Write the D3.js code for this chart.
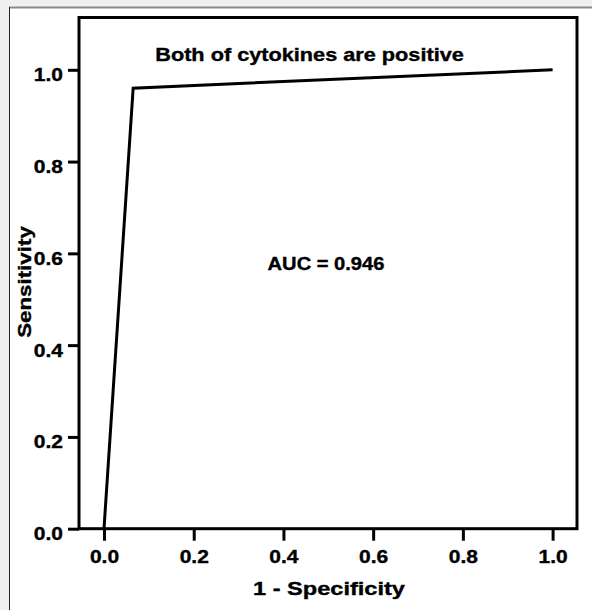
<!DOCTYPE html>
<html>
<head>
<meta charset="utf-8">
<script src="https://cdn.jsdelivr.net/npm/d3@7/dist/d3.min.js"></script>
<style>
  html, body { margin: 0; padding: 0; background: #f0f0f0; }
  svg { display: block; }
  text { font-family: "Liberation Sans", Arial, sans-serif; font-weight: bold; fill: #000; stroke: #000; stroke-width: 0.35px; }
</style>
</head>
<body>
<script>
// ---- data ----
const fpr = [0, 0.065, 1];            // 1 - Specificity
const tpr = [0, 0.96, 1];             // Sensitivity
const xTicks = [0, 0.2, 0.4, 0.6, 0.8, 1.0];
const yTicks = [0, 0.2, 0.4, 0.6, 0.8, 1.0];
const titleText = "Both of cytokines are positive";
const aucText = "AUC = 0.946";
const xLabel = "1 - Specificity";
const yLabel = "Sensitivity";

// ---- layout ----
const W = 592, H = 610;
const frame = { left: 79, right: 577, top: 17.5, bottom: 528.7 };
const FONT = '"Liberation Sans", Arial, sans-serif';

const svg = d3.select("body").append("svg").attr("width", W).attr("height", H);

// panel
svg.append("rect").attr("x", 0).attr("y", 0).attr("width", W).attr("height", H).attr("fill", "#f0f0f0");
svg.append("rect").attr("x", 9).attr("y", 7).attr("width", W - 9).attr("height", H - 7).attr("fill", "#fff");
svg.append("line").attr("x1", 9).attr("x2", W).attr("y1", 7.5).attr("y2", 7.5).attr("stroke", "#8a8a8a").attr("stroke-width", 2);
svg.append("line").attr("x1", 9.5).attr("x2", 9.5).attr("y1", 7).attr("y2", H).attr("stroke", "#222").attr("stroke-width", 1);

const x = d3.scaleLinear().domain([0, 1]).range([104, 552.6]);
const y = d3.scaleLinear().domain([0, 1]).range([frame.bottom, 69.8]);

// frame
svg.append("rect")
  .attr("x", frame.left).attr("y", frame.top)
  .attr("width", frame.right - frame.left).attr("height", frame.bottom - frame.top)
  .attr("fill", "none").attr("stroke", "#000").attr("stroke-width", 3);

// x axis
const gx = svg.append("g").attr("transform", `translate(0,${frame.bottom})`)
  .call(d3.axisBottom(x).tickValues(xTicks).tickSize(12).tickFormat(d3.format(".1f")));
gx.select(".domain").remove();
gx.selectAll(".tick line").attr("stroke", "#000").attr("stroke-width", 3);
gx.selectAll(".tick text")
  .attr("x", 0).attr("y", 0).attr("dy", null)
  .attr("transform", "translate(0,34.5) scale(1.2,1)")
  .attr("text-anchor", "middle")
  .style("font-size", "17.5px").style("font-family", FONT).style("font-weight", "bold");

// y axis
const gy = svg.append("g").attr("transform", `translate(${frame.left},0)`)
  .call(d3.axisLeft(y).tickValues(yTicks).tickSize(11).tickFormat(d3.format(".1f")));
gy.select(".domain").remove();
gy.selectAll(".tick line").attr("stroke", "#000").attr("stroke-width", 3);
gy.selectAll(".tick text")
  .attr("x", 0).attr("y", 0).attr("dy", null)
  .attr("transform", "translate(-16,11) scale(1.2,1)")
  .attr("text-anchor", "end")
  .style("font-size", "17.5px").style("font-family", FONT).style("font-weight", "bold");

// ROC line
const pts = fpr.map((f, i) => [f, tpr[i]]);
svg.append("path")
  .datum(pts)
  .attr("d", d3.line().x(d => x(d[0])).y(d => y(d[1])))
  .attr("fill", "none").attr("stroke", "#000").attr("stroke-width", 3)
  .attr("stroke-linejoin", "miter");

// texts
svg.append("text").attr("transform", "translate(309.5,61) scale(1.24,1)").attr("text-anchor", "middle")
  .style("font-size", "17.5px").text(titleText);

svg.append("text").attr("transform", "translate(326,269.5) scale(1.15,1)").attr("text-anchor", "middle")
  .style("font-size", "17.5px").text(aucText);

svg.append("text").attr("transform", "translate(329,595) scale(1.31,1)").attr("text-anchor", "middle")
  .style("font-size", "18px").text(xLabel);

svg.append("text").attr("transform", "translate(31,282) rotate(-90) scale(1.24,1)").attr("text-anchor", "middle")
  .style("font-size", "18px").text(yLabel);
</script>
</body>
</html>
